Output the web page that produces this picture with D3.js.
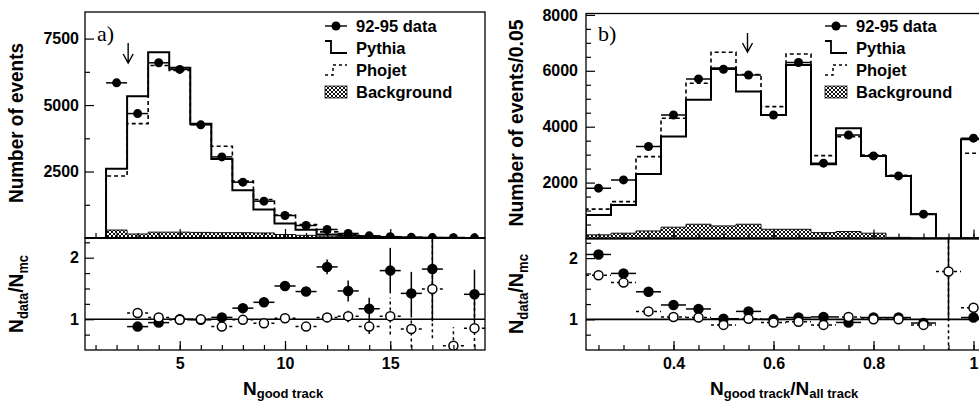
<!DOCTYPE html>
<html>
<head>
<meta charset="utf-8">
<script src="https://cdn.jsdelivr.net/npm/d3@7"></script>
<style>
body { margin: 0; background: #fff; }
svg { display: block; font-family: "Liberation Sans", Arial, sans-serif; font-weight: bold; }
</style>
</head>
<body>
<svg id="chart" width="979" height="405"></svg>
<script>
// ---- panel a: N good track ----
let binsA   = [2, 3, 4, 5, 6, 7, 8, 9, 10, 11, 12, 13, 14, 15, 16, 17, 18, 19];
let dataA   = [5835, 4680, 6590, 6340, 4255, 3050, 2100, 1385, 845, 470, 320, 170, 80, 50, 25, 15, 8, 5];
let pythiaA = [2600, 5330, 6985, 6400, 4300, 2975, 1800, 1070, 545, 308, 132, 95, 50, 30, 15, 10, 5, 3];
let phojetA = [2330, 4300, 6490, 6300, 4280, 3450, 2140, 1450, 860, 510, 230, 140, 75, 40, 20, 12, 6, 4];
let bkgA    = [300, 150, 220, 220, 210, 200, 200, 190, 130, 100, 70, 50, 30, 20, 10, 8, 5, 3];

let ratPyXA   = [3, 4, 5, 6, 7, 8, 9, 10, 11, 12, 13, 14, 15, 16, 17, 19];
let ratPyA    = [0.88, 0.945, 1.0, 0.99, 1.03, 1.18, 1.275, 1.54, 1.45, 1.85, 1.46, 1.17, 1.79, 1.42, 1.815, 1.405];
let ratPyErrA = [0.02, 0.02, 0.02, 0.02, 0.02, 0.03, 0.04, 0.06, 0.07, 0.12, 0.17, 0.18, 0.37, 0.35, 0.85, 0.4];
let ratPhXA   = [3, 4, 5, 6, 7, 8, 9, 10, 11, 12, 13, 14, 15, 16, 17, 18, 19];
let ratPhA    = [1.10, 1.03, 0.99, 1.0, 0.88, 0.99, 0.935, 1.015, 0.88, 1.03, 1.05, 0.88, 1.05, 0.84, 1.49, 0.57, 0.855];
let ratPhErrA = [0.02, 0.02, 0.02, 0.02, 0.03, 0.03, 0.04, 0.05, 0.06, 0.08, 0.1, 0.12, 0.3, 0.3, 0.8, 0.3, 0.5];

// ---- panel b: N good track / N all track ----
let binsB   = [0.25, 0.30, 0.35, 0.40, 0.45, 0.50, 0.55, 0.60, 0.65, 0.70, 0.75, 0.80, 0.85, 0.90, 0.95, 1.00];
let dataB   = [1800, 2097, 3290, 4420, 5710, 6055, 5850, 4420, 6295, 2695, 3705, 2955, 2240, 870, null, 3590];
let pythiaB = [845, 1200, 2310, 3645, 4960, 6090, 5255, 4420, 6210, 2660, 3945, 2955, 2240, 870, 0, 3550];
let phojetB = [1050, 1320, 2930, 4300, 5555, 6665, 5870, 4720, 6600, 2965, 3645, 2990, 2260, 880, 0, 3050];
let bkgB    = [130, 190, 270, 405, 510, 450, 510, 330, 330, 210, 250, 190, 40, 20, 0, 30];

let ratPyXB   = [0.25, 0.30, 0.35, 0.40, 0.45, 0.50, 0.55, 0.60, 0.65, 0.70, 0.75, 0.80, 0.85, 0.90, 0.95, 1.00];
let ratPyB    = [2.06, 1.75, 1.45, 1.235, 1.17, 1.01, 1.13, 1.0, 1.03, 1.04, 0.95, 1.03, 1.03, 0.94, 2.6, 1.03];
let ratPyErrB = [0.03, 0.03, 0.02, 0.02, 0.02, 0.02, 0.02, 0.02, 0.02, 0.02, 0.02, 0.02, 0.02, 0.03, 1.6, 0.02];
let ratPhXB   = [0.25, 0.30, 0.35, 0.40, 0.45, 0.50, 0.55, 0.60, 0.65, 0.70, 0.75, 0.80, 0.85, 0.90, 0.95, 1.00];
let ratPhB    = [1.72, 1.6, 1.13, 1.04, 1.03, 0.91, 1.01, 0.95, 0.96, 0.91, 1.04, 1.0, 1.0, 0.91, 1.78, 1.19];
let ratPhErrB = [0.03, 0.03, 0.02, 0.02, 0.02, 0.02, 0.02, 0.02, 0.02, 0.02, 0.02, 0.02, 0.02, 0.03, 1.3, 0.03];

let legendLabels = ['92-95 data', 'Pythia', 'Phojet', 'Background'];

let svg = d3.select('#chart');
const FONT = '"Liberation Sans", Arial, sans-serif';

// cross hatch for the background histogram
let defs = svg.append('defs');
let hatch = defs.append('pattern').attr('id', 'hatch')
  .attr('patternUnits', 'userSpaceOnUse').attr('width', 4).attr('height', 4);
hatch.append('rect').attr('width', 4).attr('height', 4).attr('fill', '#fff');
hatch.append('path')
  .attr('d', 'M0,4L4,0M-1,1L1,-1M3,5L5,3M0,0L4,4M-1,3L1,5M3,-1L5,1')
  .attr('stroke', '#111').attr('stroke-width', 1);

// turn bin centres + contents into the corner points of a step histogram
function stepPoints(centers, values, half) {
  let pts = [[centers[0] - half, 0]];
  centers.forEach((c, i) => {
    pts.push([c - half, values[i]]);
    pts.push([c + half, values[i]]);
  });
  pts.push([centers[centers.length - 1] + half, 0]);
  return pts;
}

function styleAxis(g, size) {
  g.attr('font-size', size).attr('font-family', FONT).attr('font-weight', 'bold');
  g.select('.domain').remove();
  g.selectAll('.tick line').attr('stroke-width', 1.2);
}

function drawPanel(p) {
  let x = d3.scaleLinear().domain(p.xDomain).range(p.xRange);
  let yTop = d3.scaleLinear().domain(p.topDomain).range(p.topRange);
  let yRat = d3.scaleLinear().domain(p.ratDomain).range(p.ratRange);
  let half = p.half;
  let x0 = p.xRange[0], x1 = p.xRange[1];

  svg.select('defs').append('clipPath').attr('id', 'clipTop' + p.id)
    .append('rect').attr('x', x0).attr('y', p.topRange[1])
    .attr('width', x1 - x0).attr('height', p.topRange[0] - p.topRange[1]);
  svg.select('defs').append('clipPath').attr('id', 'clipRat' + p.id)
    .append('rect').attr('x', x0).attr('y', p.ratRange[1])
    .attr('width', x1 - x0).attr('height', p.ratRange[0] - p.ratRange[1]);

  // ---- top histogram ----
  let top = svg.append('g').attr('clip-path', `url(#clipTop${p.id})`);
  let line = d3.line().x(d => x(d[0])).y(d => yTop(d[1]));
  let area = d3.area().x(d => x(d[0])).y0(yTop(0)).y1(d => yTop(d[1]));

  top.append('path').datum(stepPoints(p.bins, p.bkg, half))
    .attr('d', area).attr('fill', 'url(#hatch)').attr('stroke', '#111').attr('stroke-width', 1);
  top.append('path').datum(stepPoints(p.bins, p.pythia, half))
    .attr('d', line).attr('fill', 'none').attr('stroke', '#000').attr('stroke-width', 2);
  top.append('path').datum(stepPoints(p.bins, p.phojet, half))
    .attr('d', line).attr('fill', 'none').attr('stroke', '#000')
    .attr('stroke-width', 1.6).attr('stroke-dasharray', '4,3');

  let pts = p.bins.map((c, i) => ({ c: c, v: p.data[i] })).filter(d => d.v !== null);
  top.selectAll('.hbar').data(pts).join('line')
    .attr('x1', d => x(d.c - half)).attr('x2', d => x(d.c + half))
    .attr('y1', d => yTop(d.v)).attr('y2', d => yTop(d.v))
    .attr('stroke', '#000').attr('stroke-width', 1.5);
  top.selectAll('.dot').data(pts).join('circle')
    .attr('cx', d => x(d.c)).attr('cy', d => yTop(d.v)).attr('r', 4.5).attr('fill', '#000');

  // ---- ratio plot ----
  let rat = svg.append('g').attr('clip-path', `url(#clipRat${p.id})`);
  rat.append('line').attr('x1', x0).attr('x2', x1)
    .attr('y1', yRat(1)).attr('y2', yRat(1)).attr('stroke', '#000').attr('stroke-width', 1.6);

  function ratioSeries(xs, vs, es, open) {
    let d = xs.map((c, i) => ({ c: c, v: vs[i], e: es[i] }));
    let gg = rat.append('g');
    let dash = open ? '3,3' : null;
    gg.selectAll('.h').data(d).join('line')
      .attr('x1', q => x(q.c - half)).attr('x2', q => x(q.c + half))
      .attr('y1', q => yRat(q.v)).attr('y2', q => yRat(q.v))
      .attr('stroke', '#000').attr('stroke-width', 1.5).attr('stroke-dasharray', dash);
    gg.selectAll('.v').data(d).join('line')
      .attr('x1', q => x(q.c)).attr('x2', q => x(q.c))
      .attr('y1', q => yRat(q.v - q.e)).attr('y2', q => yRat(q.v + q.e))
      .attr('stroke', '#000').attr('stroke-width', 1.5).attr('stroke-dasharray', dash);
    gg.selectAll('circle').data(d).join('circle')
      .attr('cx', q => x(q.c)).attr('cy', q => yRat(q.v)).attr('r', 4.5)
      .attr('fill', open ? '#fff' : '#000').attr('stroke', '#000').attr('stroke-width', 1.5);
  }
  ratioSeries(p.rPyX, p.rPy, p.rPyErr, false);
  ratioSeries(p.rPhX, p.rPh, p.rPhErr, true);

  // ---- frames ----
  svg.append('rect').attr('x', x0).attr('y', p.topRange[1])
    .attr('width', x1 - x0).attr('height', p.topRange[0] - p.topRange[1])
    .attr('fill', 'none').attr('stroke', '#000').attr('stroke-width', 1.3);
  svg.append('rect').attr('x', x0).attr('y', p.ratRange[1])
    .attr('width', x1 - x0).attr('height', p.ratRange[0] - p.ratRange[1])
    .attr('fill', 'none').attr('stroke', '#000').attr('stroke-width', 1.3);
  svg.append('line').attr('x1', x0).attr('x2', x1)
    .attr('y1', p.ratRange[1]).attr('y2', p.ratRange[1]).attr('stroke', '#000').attr('stroke-width', 2);

  // ---- axes ----
  svg.append('g').attr('transform', `translate(${x0},0)`)
    .call(d3.axisLeft(yTop).tickValues(p.topMajor).tickSize(-9).tickPadding(p.pad).tickFormat(d3.format('d')))
    .call(g => styleAxis(g, 16));
  svg.append('g').attr('transform', `translate(${x0},0)`)
    .call(d3.axisLeft(yTop).tickValues(p.topMinor).tickSize(-5).tickFormat(''))
    .call(g => styleAxis(g, 16));
  svg.append('g').attr('transform', `translate(${x0},0)`)
    .call(d3.axisLeft(yRat).tickValues([1, 2]).tickSize(-9).tickPadding(p.pad).tickFormat(d3.format('d')))
    .call(g => styleAxis(g, 16));
  svg.append('g').attr('transform', `translate(${x0},0)`)
    .call(d3.axisLeft(yRat).tickValues([0.75, 1.25, 1.5, 1.75, 2.25]).tickSize(-5).tickFormat(''))
    .call(g => styleAxis(g, 16));

  [p.topRange[0], p.ratRange[0]].forEach((yb, k) => {
    svg.append('g').attr('transform', `translate(0,${yb})`)
      .call(d3.axisBottom(x).tickValues(p.xMajor).tickSize(-9).tickPadding(8)
        .tickFormat(k === 1 ? d3.format('~g') : ''))
      .call(g => styleAxis(g, 16));
    svg.append('g').attr('transform', `translate(0,${yb})`)
      .call(d3.axisBottom(x).tickValues(p.xMinor).tickSize(-5).tickFormat(''))
      .call(g => styleAxis(g, 16));
  });

  // ---- panel letter and arrow ----
  svg.append('text').attr('x', p.letterPos[0]).attr('y', p.letterPos[1])
    .attr('font-family', '"Liberation Serif", "Times New Roman", serif').attr('font-weight', 'normal')
    .attr('font-size', 22).text(p.id + ')');
  let ax = x(p.arrowAt);
  svg.append('path')
    .attr('d', `M${ax},${p.arrowY[0]}V${p.arrowY[1]}M${ax - 5},${p.arrowY[1] - 9}L${ax},${p.arrowY[1]}L${ax + 5},${p.arrowY[1] - 9}`)
    .attr('fill', 'none').attr('stroke', '#000').attr('stroke-width', 1.4);

  // ---- legend ----
  let lx = p.legendX, rows = [26, 48, 70, 92];
  let leg = svg.append('g');
  leg.append('line').attr('x1', lx).attr('x2', lx + 22).attr('y1', rows[0]).attr('y2', rows[0])
    .attr('stroke', '#000').attr('stroke-width', 1.4);
  leg.append('circle').attr('cx', lx + 11).attr('cy', rows[0]).attr('r', 4.5);
  leg.append('path').attr('d', `M${lx},${rows[1] - 7}H${lx + 6}V${rows[1] + 5}H${lx + 22}`)
    .attr('fill', 'none').attr('stroke', '#000').attr('stroke-width', 1.8);
  leg.append('path').attr('d', `M${lx},${rows[2] + 5}H${lx + 8}V${rows[2] - 5}H${lx + 22}`)
    .attr('fill', 'none').attr('stroke', '#000').attr('stroke-width', 1.5).attr('stroke-dasharray', '3,3');
  leg.append('rect').attr('x', lx).attr('y', rows[3] - 6).attr('width', 22).attr('height', 12)
    .attr('fill', 'url(#hatch)').attr('stroke', '#111').attr('stroke-width', 0.8);
  leg.selectAll('text').data(legendLabels).join('text')
    .attr('x', lx + 31).attr('y', (d, i) => rows[i] + 6)
    .attr('font-size', 16.5).text(d => d);
}

drawPanel({
  id: 'a', xDomain: [0.5, 19.5], xRange: [85, 485],
  topDomain: [0, 8500], topRange: [238, 12],
  ratDomain: [0.5, 2.32], ratRange: [350, 238], half: 0.5,
  bins: binsA, data: dataA, pythia: pythiaA, phojet: phojetA, bkg: bkgA,
  rPyX: ratPyXA, rPy: ratPyA, rPyErr: ratPyErrA,
  rPhX: ratPhXA, rPh: ratPhA, rPhErr: ratPhErrA,
  topMajor: [2500, 5000, 7500], topMinor: [1250, 3750, 6250],
  xMajor: [5, 10, 15], xMinor: d3.range(1, 20), pad: 6,
  letterPos: [97, 41], arrowAt: 2.55, arrowY: [43, 63], legendX: 325
});

drawPanel({
  id: 'b', xDomain: [0.225, 1.025], xRange: [586, 986],
  topDomain: [0, 8050], topRange: [238.5, 13.5],
  ratDomain: [0.5, 2.32], ratRange: [350, 238.5], half: 0.025,
  bins: binsB, data: dataB, pythia: pythiaB, phojet: phojetB, bkg: bkgB,
  rPyX: ratPyXB, rPy: ratPyB, rPyErr: ratPyErrB,
  rPhX: ratPhXB, rPh: ratPhB, rPhErr: ratPhErrB,
  topMajor: [2000, 4000, 6000, 8000], topMinor: [500, 1000, 1500, 2500, 3000, 3500, 4500, 5000, 5500, 6500, 7000, 7500],
  xMajor: [0.4, 0.6, 0.8, 1.0], xMinor: d3.range(0.25, 1.02, 0.05), pad: 8,
  letterPos: [598, 41], arrowAt: 0.548, arrowY: [33, 52], legendX: 825
});

// ---- axis titles (slightly squeezed to the measured length) ----
function rotLabel(cx, cy, len, parts) {
  let t = svg.append('text').attr('transform', `translate(${cx},${cy}) rotate(-90)`)
    .attr('text-anchor', 'middle').attr('dy', '0.35em')
    .attr('textLength', len).attr('lengthAdjust', 'spacingAndGlyphs');
  parts.forEach(pt => t.append('tspan').attr('font-size', pt[1]).attr('dy', pt[2]).text(pt[0]));
}
rotLabel(23, 123, 160, [['Number of events', 20, 0]]);
rotLabel(523, 123, 207, [['Number of events/0.05', 20, 0]]);
rotLabel(23, 294, 78, [['N', 21, 0], ['data', 14, 5], ['/N', 21, -5], ['mc', 14, 5]]);
rotLabel(523, 294, 80, [['N', 21, 0], ['data', 14, 5], ['/N', 21, -5], ['mc', 14, 5]]);

function xLabel(x0, parts) {
  let t = svg.append('text').attr('x', x0).attr('y', 395);
  parts.forEach(pt => t.append('tspan').attr('font-size', pt[1]).attr('dy', pt[2]).text(pt[0]));
}
xLabel(243, [['N', 19, 0], ['good track', 13, 3]]);
xLabel(710, [['N', 19, 0], ['good track', 13, 3], ['/N', 19, -3], ['all track', 13, 3]]);
</script>
</body>
</html>
